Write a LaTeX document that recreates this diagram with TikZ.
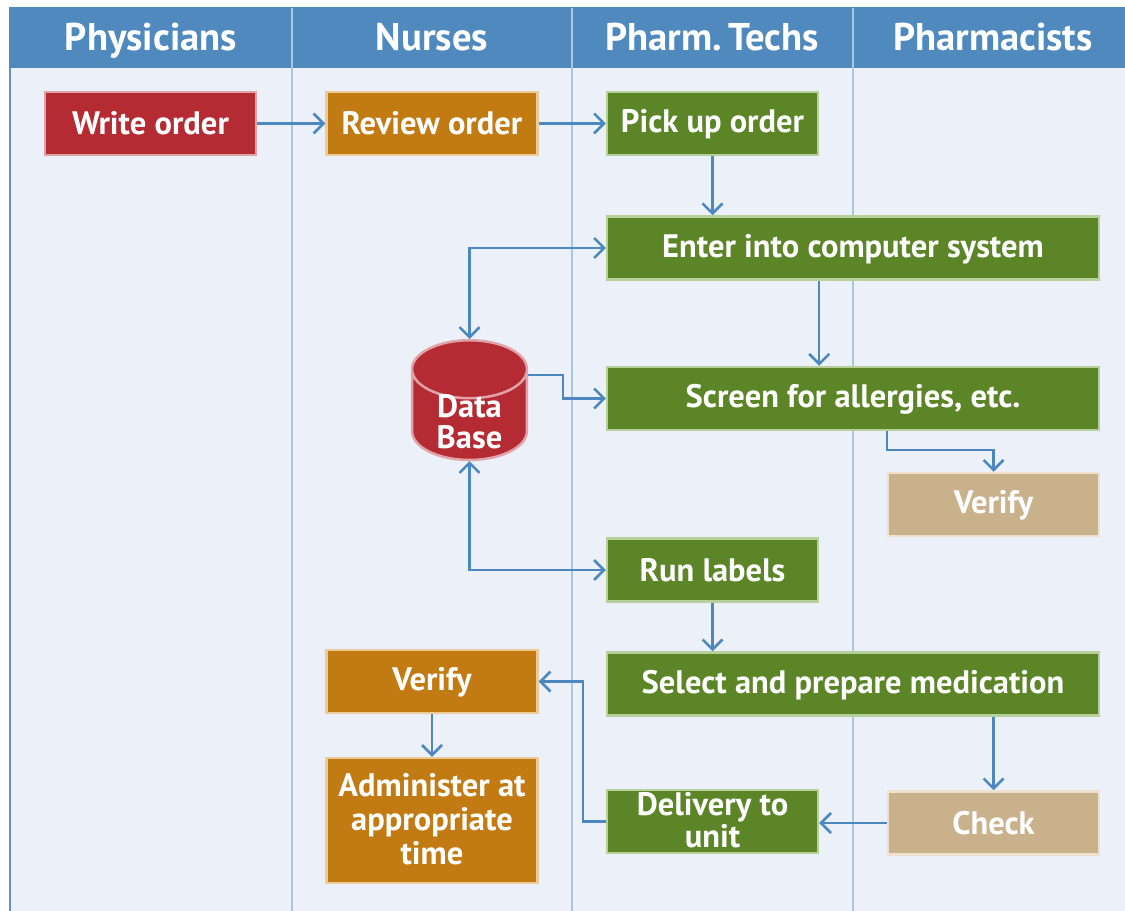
\documentclass[tikz,border=0pt]{standalone}
\usepackage{fontspec}
\setmainfont{PT Sans}
\usepackage{tikz}
\usetikzlibrary{shapes, arrows.meta}
\definecolor{headblue}{HTML}{4F89BE}
\definecolor{laneback}{HTML}{ECF1F9}
\definecolor{laneline}{HTML}{A9C6E3}
\definecolor{edgeblue}{HTML}{5E93C8}
\definecolor{arrowblue}{HTML}{4C87C0}
\definecolor{docred}{HTML}{B52B33}
\definecolor{docredline}{HTML}{E2A3A8}
\definecolor{nurseorange}{HTML}{C27A13}
\definecolor{nurseline}{HTML}{EDCB98}
\definecolor{techgreen}{HTML}{5B8527}
\definecolor{techline}{HTML}{B7CF9B}
\definecolor{pharmtan}{HTML}{C9B18B}
\definecolor{pharmline}{HTML}{EEE2CF}
\newcommand{\boxstrut}{\rule[-0.1em]{0pt}{0.88em}}
\tikzstyle{process} = [rectangle, minimum width=4.22cm, minimum height=1.26cm, inner ysep=0pt, text centered, align=center, line width=0.05cm, text=white, font=\bfseries\fontsize{18.5}{19.2}\selectfont, execute at begin node=\boxstrut, execute at end node=\boxstrut]
\tikzstyle{physician} = [process, fill=docred, draw=docredline]
\tikzstyle{nurse} = [process, fill=nurseorange, draw=nurseline]
\tikzstyle{tech} = [process, fill=techgreen, draw=techline]
\tikzstyle{pharm} = [process, fill=pharmtan, draw=pharmline]
\tikzstyle{wide} = [minimum width=9.84cm]
\tikzstyle{database} = [cylinder, shape border rotate=90, aspect=0.75, minimum width=2.3cm, minimum height=1.74cm, inner ysep=-2.8pt, align=center, line width=0.05cm, fill=docred, draw=docredline, text=white, font=\bfseries\fontsize{18.5}{17.4}\selectfont]
\tikzstyle{lanetitle} = [text=white, anchor=base, font=\bfseries\fontsize{22}{24}\selectfont]
\tikzstyle{arrow} = [line width=0.05cm, draw=arrowblue, -{Straight Barb[length=0.2cm, width=0.4cm]}]
\tikzstyle{twoway} = [arrow, {Straight Barb[length=0.2cm, width=0.4cm]}-{Straight Barb[length=0.2cm, width=0.4cm]}]

\begin{document}
\begin{tikzpicture}[x=0.02cm, y=-0.02cm]
\useasboundingbox (0,0) rectangle (1125,911);
\fill[laneback] (9,68) rectangle (1125,911);
\fill[headblue] (9,7) rectangle (1125,68);
\draw[edgeblue, line width=0.05cm] (10,68) -- (10,911);
\foreach \x in {292,572,853}
  \draw[laneline, line width=0.04cm] (\x,8) -- (\x,911);

\node (h1) [lanetitle] at (151,51) {Physicians};
\node (h2) [lanetitle] at (432,51) {Nurses};
\node (h3) [lanetitle] at (712,51) {Pharm.\,Techs};
\node (h4) [lanetitle] at (993,51) {Pharmacists};

\node (write) [physician] at (150.5,123.5) {Write order};
\node (review) [nurse] at (432,123.5) {Review order};
\node (pickup) [tech] at (712.5,123.5) {Pick up order};
\node (enter) [tech, wide] at (853,248) {Enter into computer system};
\node (screen) [tech, wide] at (853,398.5) {Screen for allergies, etc.};
\node (verify1) [pharm] at (993.5,504.5) {Verify};
\node (labels) [tech] at (712.5,570) {Run labels};
\node (select) [tech, wide] at (853,684) {Select and prepare medication};
\node (verify2) [nurse] at (432,681.5) {Verify};
\node (admin) [nurse, minimum height=2.5cm] at (432,820.5) {Administer at\\appropriate\\time};
\node (deliver) [tech, font=\bfseries\fontsize{18.5}{14.8}\selectfont] at (712.5,821.5) {Delivery to\\unit};
\node (check) [pharm] at (993.5,823) {Check};
\node (db) [database, anchor=north] at (469.5,339) {Data\\Base};
\coordinate (dbjog) at (563,375);

\draw [arrow] (write) -- (review);
\draw [arrow] (review) -- (pickup);
\draw [arrow] (pickup) -- (pickup |- enter.north);
\draw [twoway] (db.north) |- (enter.west);
\draw [arrow] (enter.south -| pickup.east) -- (screen.north -| pickup.east);
\draw [arrow] (db.east |- dbjog) -- (dbjog) |- (screen.west);
\draw [arrow] (screen.south -| verify1.west) -- ++(0,19) -| (verify1.north);
\draw [twoway] (db.south) |- (labels.west);
\draw [arrow] (labels) -- (labels |- select.north);
\draw [arrow] (select.south -| check) -- (check);
\draw [arrow] (check.west) -- (check.west -| deliver.east);
\draw [arrow] (deliver.west) -- ++(-23,0) |- (verify2.east);
\draw [arrow] (verify2) -- (admin);

\end{tikzpicture}
\end{document}
